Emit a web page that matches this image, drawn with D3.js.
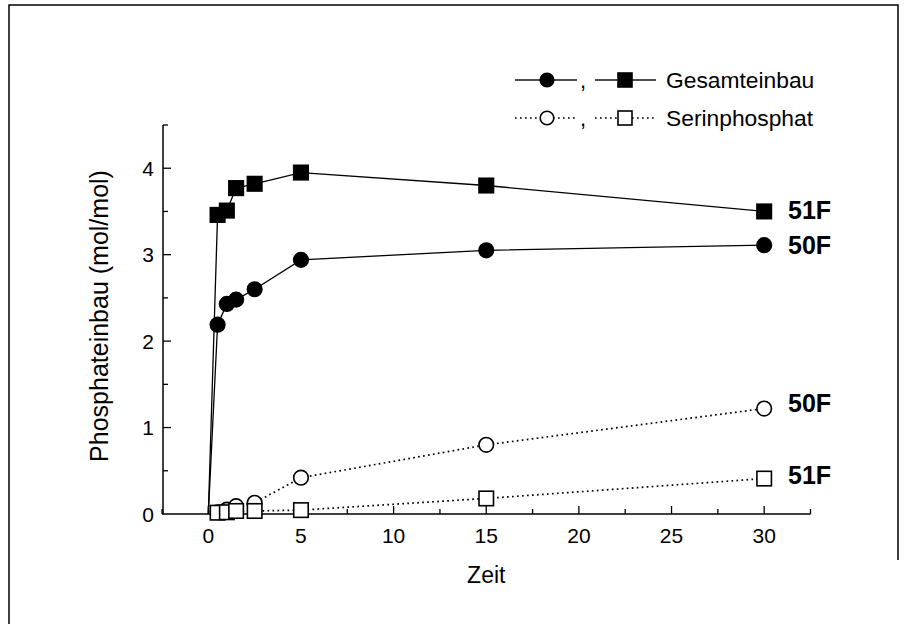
<!DOCTYPE html>
<html>
<head>
<meta charset="utf-8">
<script src="https://cdn.jsdelivr.net/npm/d3@7"></script>
<style>
  body { margin: 0; background: #fff; }
  svg text { font-family: "Liberation Sans", Arial, Helvetica, sans-serif; fill: #000; }
</style>
</head>
<body>
<div id="chart"></div>
<script>
const times = [0.5, 1, 1.5, 2.5, 5, 15, 30];
const gesamt50F = [2.19, 2.43, 2.48, 2.60, 2.94, 3.05, 3.11];
const gesamt51F = [3.46, 3.51, 3.77, 3.82, 3.95, 3.80, 3.50];
const serin50F = [0.02, 0.05, 0.09, 0.13, 0.42, 0.80, 1.22];
const serin51F = [0.015, 0.02, 0.035, 0.035, 0.045, 0.18, 0.41];
const xTicks = [0, 5, 10, 15, 20, 25, 30];
const yTicks = [0, 1, 2, 3, 4];
const seriesNames = ["50F", "51F"];
const legendLabels = ["Gesamteinbau", "Serinphosphat"];

const width = 906, height = 624;

const svg = d3.select("#chart")
    .append("svg")
    .attr("width", width)
    .attr("height", height);

// Rahmen
svg.append("path")
    .attr("d", "M9,624 L9,5 L898,5 L898,560")
    .attr("fill", "none")
    .attr("stroke", "black")
    .attr("stroke-width", 1.5);

const x = d3.scaleLinear().domain([-2.5, 32.5]).range([162, 810.5]);
const y = d3.scaleLinear().domain([0, 4.5]).range([514, 125]);

// x-Achse
const xAxis = svg.append("g").attr("transform", "translate(0,514)");
xAxis.append("line")
    .attr("x1", x(-2.5)).attr("x2", x(32.5))
    .attr("stroke", "black").attr("stroke-width", 1.5);
xAxis.selectAll(".minor")
    .data(d3.range(-2.5, 33, 2.5))
    .enter().append("line")
    .attr("x1", d => x(d)).attr("x2", d => x(d))
    .attr("y1", 0).attr("y2", d => xTicks.includes(d) ? -8 : -5)
    .attr("stroke", "black").attr("stroke-width", 1.3);
xAxis.selectAll(".lbl")
    .data(xTicks)
    .enter().append("text")
    .attr("x", d => x(d)).attr("y", 29)
    .attr("text-anchor", "middle")
    .style("font-size", "21px")
    .text(d => d);
svg.append("text")
    .attr("x", x(15)).attr("y", 583)
    .attr("text-anchor", "middle")
    .style("font-size", "23px")
    .text("Zeit");

// y-Achse
const yAxis = svg.append("g").attr("transform", "translate(163,0)");
yAxis.append("line")
    .attr("y1", y(0)).attr("y2", y(4.5))
    .attr("stroke", "black").attr("stroke-width", 1.5);
yAxis.selectAll(".minor")
    .data(d3.range(0.5, 4.51, 0.5))
    .enter().append("line")
    .attr("y1", d => y(d)).attr("y2", d => y(d))
    .attr("x1", 0).attr("x2", d => yTicks.includes(d) ? 8 : 5)
    .attr("stroke", "black").attr("stroke-width", 1.3);
yAxis.selectAll(".lbl")
    .data(yTicks)
    .enter().append("text")
    .attr("x", -9).attr("y", d => y(d))
    .attr("dy", "0.36em")
    .attr("text-anchor", "end")
    .style("font-size", "21px")
    .text(d => d);
svg.append("text")
    .attr("transform", "translate(108,316) rotate(-90)")
    .attr("text-anchor", "middle")
    .style("font-size", "25px")
    .text("Phosphateinbau (mol/mol)");

// Linien
const line = d3.line().x(d => x(d[0])).y(d => y(d[1]));
const solid = [gesamt50F, gesamt51F].map(v => [[0, 0]].concat(times.map((t, i) => [t, v[i]])));
const dotted = [serin50F, serin51F].map(v => times.map((t, i) => [t, v[i]]));

svg.selectAll(".solid")
    .data(solid)
    .enter().append("path")
    .attr("d", line)
    .attr("fill", "none")
    .attr("stroke", "black")
    .attr("stroke-width", 1.3);
svg.selectAll(".dotted")
    .data(dotted)
    .enter().append("path")
    .attr("d", line)
    .attr("fill", "none")
    .attr("stroke", "black")
    .attr("stroke-width", 1.7)
    .attr("stroke-dasharray", "1.7,3.3");

// Marker
const r = 7.3, s = 14.5;
function circles(vals, fill) {
    svg.append("g").selectAll("circle")
        .data(times)
        .enter().append("circle")
        .attr("cx", d => x(d)).attr("cy", (d, i) => y(vals[i]))
        .attr("r", r)
        .attr("fill", fill)
        .attr("stroke", "black").attr("stroke-width", 1.6);
}
function squares(vals, fill) {
    svg.append("g").selectAll("rect")
        .data(times)
        .enter().append("rect")
        .attr("x", d => x(d) - s / 2).attr("y", (d, i) => y(vals[i]) - s / 2)
        .attr("width", s).attr("height", s)
        .attr("fill", fill)
        .attr("stroke", "black").attr("stroke-width", 1.6);
}
circles(serin50F, "white");
squares(serin51F, "white");
circles(gesamt50F, "black");
squares(gesamt51F, "black");

// Serienbeschriftung rechts
const endLabels = [
    {name: seriesNames[1], v: gesamt51F[6], dy: -1},
    {name: seriesNames[0], v: gesamt50F[6], dy: 0},
    {name: seriesNames[0], v: serin50F[6], dy: -6},
    {name: seriesNames[1], v: serin51F[6], dy: -4}
];
svg.selectAll(".end")
    .data(endLabels)
    .enter().append("text")
    .attr("x", 788).attr("y", d => y(d.v) + d.dy)
    .attr("dy", "0.36em")
    .style("font-size", "25px")
    .style("font-weight", "bold")
    .text(d => d.name);

// Legende
const leg = svg.append("g");
[80, 118].forEach((ly, k) => {
    const g = leg.append("g");
    const dash = k === 0 ? null : "1.7,3.3";
    const fill = k === 0 ? "black" : "white";
    [[515, 540], [553, 577], [595, 617], [632, 656]].forEach(seg => {
        g.append("line")
            .attr("x1", seg[0]).attr("x2", seg[1])
            .attr("y1", ly).attr("y2", ly)
            .attr("stroke", "black").attr("stroke-width", k === 0 ? 1.4 : 1.7)
            .attr("stroke-dasharray", dash);
    });
    g.append("circle").attr("cx", 547).attr("cy", ly).attr("r", 6.8)
        .attr("fill", fill).attr("stroke", "black").attr("stroke-width", 1.6);
    g.append("rect").attr("x", 618).attr("y", ly - 7).attr("width", 14).attr("height", 14)
        .attr("fill", fill).attr("stroke", "black").attr("stroke-width", 1.6);
    g.append("text").attr("x", 580).attr("y", ly + 8)
        .style("font-size", "22px").text(",");
    g.append("text").attr("x", 666).attr("y", ly).attr("dy", "0.36em")
        .style("font-size", "22.8px").text(legendLabels[k]);
});
</script>
</body>
</html>
